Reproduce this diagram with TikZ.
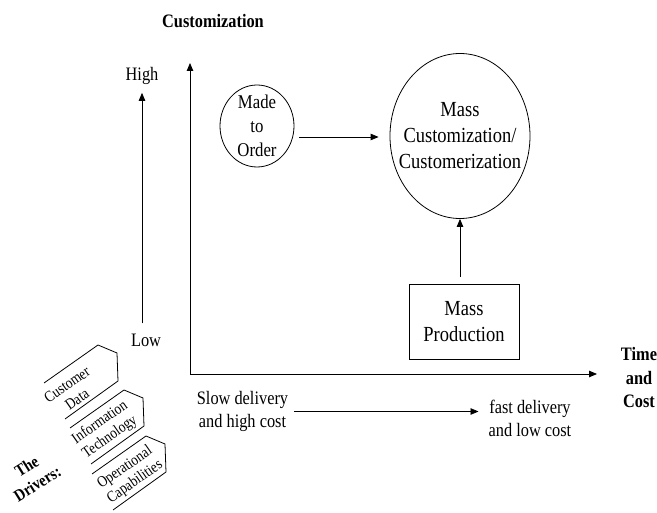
\documentclass[tikz,border=0pt]{standalone}
\usepackage{fontspec}
\setmainfont{Liberation Serif}[FakeStretch=0.86]
\usepackage{tikz}
\usetikzlibrary{positioning,arrows.meta,shapes.geometric}

\tikzset{
  lbl/.style={font=\fontsize{19}{23}\selectfont,align=center,inner sep=0pt},
  biglbl/.style={font=\fontsize{21.5}{26}\selectfont,align=center,inner sep=0pt},
  hd/.style={font=\bfseries\fontsize{19}{23.5}\selectfont,align=center,inner sep=0pt},
  arr/.style={-{Triangle[length=8pt,width=6.5pt]},line width=0.8pt},
  tagline/.style={line width=0.8pt,line join=miter},
  tagtxt/.style={font=\fontsize{15.5}{17.5}\selectfont,align=center,rotate=35,inner sep=0pt},
}

\begin{document}
\begin{tikzpicture}[x=1pt,y=-1pt]
\useasboundingbox (0,0) rectangle (657,513);
% axes
\coordinate (origin) at (190,374);
\coordinate (ytip) at (190,63);
\coordinate (xtip) at (597,374);
\draw[{Triangle[length=8pt,width=6.5pt]}-{Triangle[length=8pt,width=6.5pt]},line width=0.8pt] (ytip) -- (origin) -- (xtip);
\node[hd] (custlbl) at (213,21) {Customization};
\node[hd] (timecost) at (639,378) {Time\\and\\Cost};
% low -> high scale on the left
\node[lbl] (high) at (142,76) {High};
\node[lbl] (low) at (146,340) {Low};
\draw[arr,shorten <=10pt,shorten >=8pt] (high.south |- low.north) -- (high.south);
% the three ways of producing
\node[ellipse,draw,line width=0.8pt,minimum width=74pt,minimum height=82pt] (made) at (257,126) {};
\node[lbl,font=\fontsize{19.5}{24}\selectfont] (madetxt) at (made) {Made\\to\\Order};
\node[ellipse,draw,line width=0.8pt,minimum width=140pt,minimum height=165pt] (mass) at (460,136) {};
\node[biglbl] (masstxt) at (mass) {Mass\\Customization/\\Customerization};
\node[biglbl,draw,line width=0.8pt,minimum width=110pt,minimum height=75pt] (prod) at (464,321.5) {Mass\\Production};
\draw[arr] ([xshift=5pt,yshift=-11pt]made.east) -- ([xshift=-11pt,yshift=-1pt]mass.west);
\draw[arr,shorten <=7pt] (prod.north -| mass.south) -- (mass.south);
% delivery under the x axis
\node[lbl] (slow) at (242.5,411.5) {Slow delivery\\and high cost};
\node[lbl] (fast) at (530,418.5) {fast delivery\\and low cost};
\draw[arr,shorten <=6pt,shorten >=10pt] (slow.east) -- (slow.east -| fast.west);
% drivers: tags with an open left end
\foreach \cx/\cy/\tx/\ty/\txt [count=\i] in {98/345/72/392/{Customer\\Data},
    124/390/105/430/{Information\\Technology},
    146/436/130/475/{Operational\\Capabilities}} {
  \draw[tagline] (\cx-54,\cy+38) -- (\cx,\cy) -- (\cx+19,\cy+8) -- (\cx+20,\cy+36) -- (\cx-33,\cy+74);
  \node[tagtxt] (tag\i) at (\tx,\ty) {\txt};
}
\node[hd,font=\bfseries\fontsize{17}{20}\selectfont,rotate=32] (drivers) at (32,475) {The\\Drivers:};
\end{tikzpicture}
\end{document}
